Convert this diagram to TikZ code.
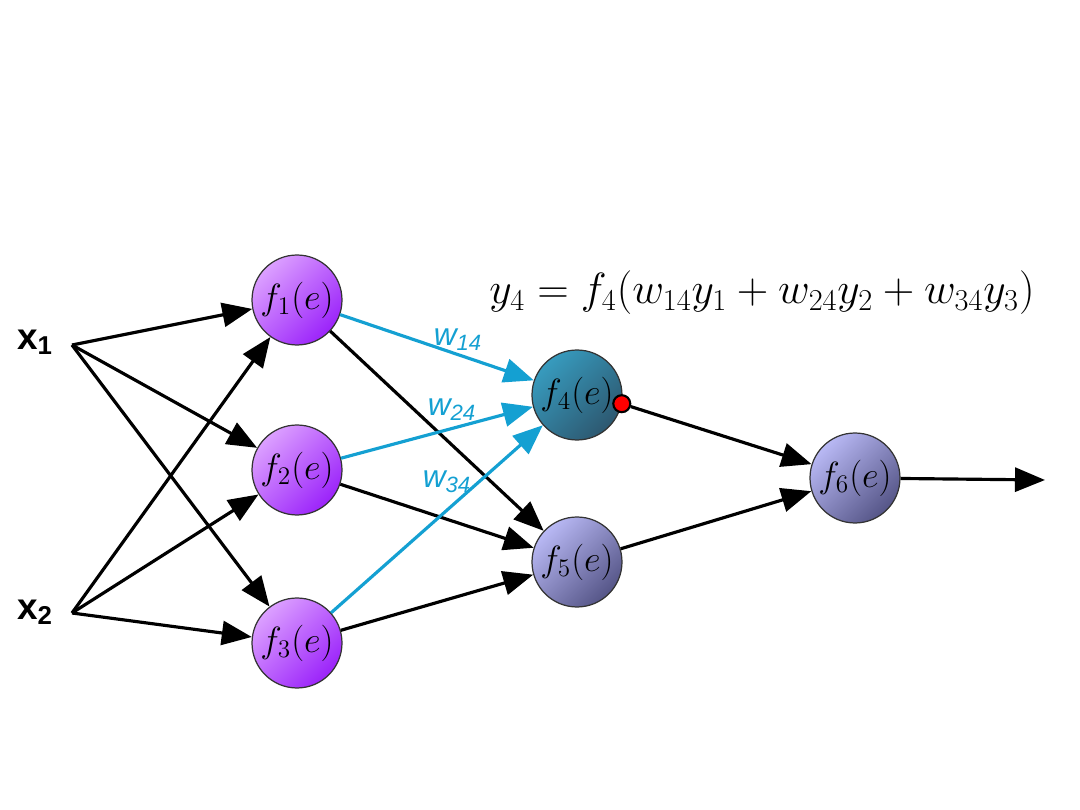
\documentclass[tikz,border=0pt]{standalone}
\usepackage{amsmath}
\usepackage{fontspec}
\newfontfamily\sflabel{Liberation Sans}
\usepackage{xcolor}
\usepackage{tikz}
\usetikzlibrary{arrows.meta}

\definecolor{hidlight}{RGB}{220,160,255}
\definecolor{hiddark}{RGB}{155,35,250}
\definecolor{tealight}{RGB}{55,155,190}
\definecolor{teadark}{RGB}{45,88,112}
\definecolor{lavlight}{RGB}{185,185,245}
\definecolor{lavdark}{RGB}{85,85,135}
\definecolor{wblue}{RGB}{20,160,210}

\begin{document}
\begin{tikzpicture}[
  x=0.02cm, y=-0.02cm,
  neuron/.style={circle, draw=black!80, line width=0.7pt, minimum size=1.8cm,
                 inner sep=-4pt, font=\fontsize{22}{26}\selectfont},
  layerone/.style={neuron, top color=hidlight, bottom color=hiddark, shading angle=45},
  layertwo/.style={neuron, top color=lavlight, bottom color=lavdark, shading angle=45},
  picked/.style={neuron, top color=tealight, bottom color=teadark, shading angle=45},
  arrow/.style={-{Triangle[length=0.6cm, width=0.48cm]}, line width=1.8pt},
  warrow/.style={arrow, draw=wblue, color=wblue},
  inlabel/.style={font=\fontsize{21}{25}\sflabel\bfseries},
  wlabel/.style={font=\fontsize{18}{21}\sflabel\itshape, text=wblue},
]

\useasboundingbox (0,0) rectangle (1080,810);

% inputs
\node[inlabel] (x1) at (35,342) {x\textsubscript{1}};
\node[inlabel] (x2) at (35,612) {x\textsubscript{2}};
\coordinate (in1) at (72,345);
\coordinate (in2) at (72,613);

% neurons
\node[layerone] (f1) at (297,300) {$f_1(e)$};
\node[layerone] (f2) at (297,470) {$f_2(e)$};
\node[layerone] (f3) at (297,643) {$f_3(e)$};
\node[picked]   (f4) at (577,395) {$f_4(e)$};
\node[layertwo] (f5) at (577,562) {$f_5(e)$};
\node[layertwo] (f6) at (855,478) {$f_6(e)$};
\coordinate (out) at (1045,480);

\foreach \i in {1,2}
  \foreach \j in {1,2,3}
    \draw[arrow] (in\i) -- (f\j);

\draw[arrow] (f1) -- (f5);
\draw[arrow] (f2) -- (f5);
\draw[arrow] (f3) -- (f5);
\draw[warrow] (f1) -- (f4);
\draw[warrow] (f2) -- (f4);
\draw[warrow] (f3) -- (f4);

\node[circle, fill=red, draw=black, line width=1.2pt, minimum size=0.34cm,
      inner sep=0pt] (dot) at (f4.-11) {};
\draw[arrow] (dot) -- (f6);
\draw[arrow] (f5) -- (f6);
\draw[arrow] (f6) -- (out);

% weights
\node[wlabel] (w14) at (458,340) {w\textsubscript{14}};
\node[wlabel] (w24) at (452,410) {w\textsubscript{24}};
\node[wlabel] (w34) at (447,482) {w\textsubscript{34}};

\node[font=\fontsize{24}{28}\selectfont] (eq) at (762,293)
  {$y_4 = f_4(w_{14}y_1 + w_{24}y_2 + w_{34}y_3)$};

\end{tikzpicture}
\end{document}
